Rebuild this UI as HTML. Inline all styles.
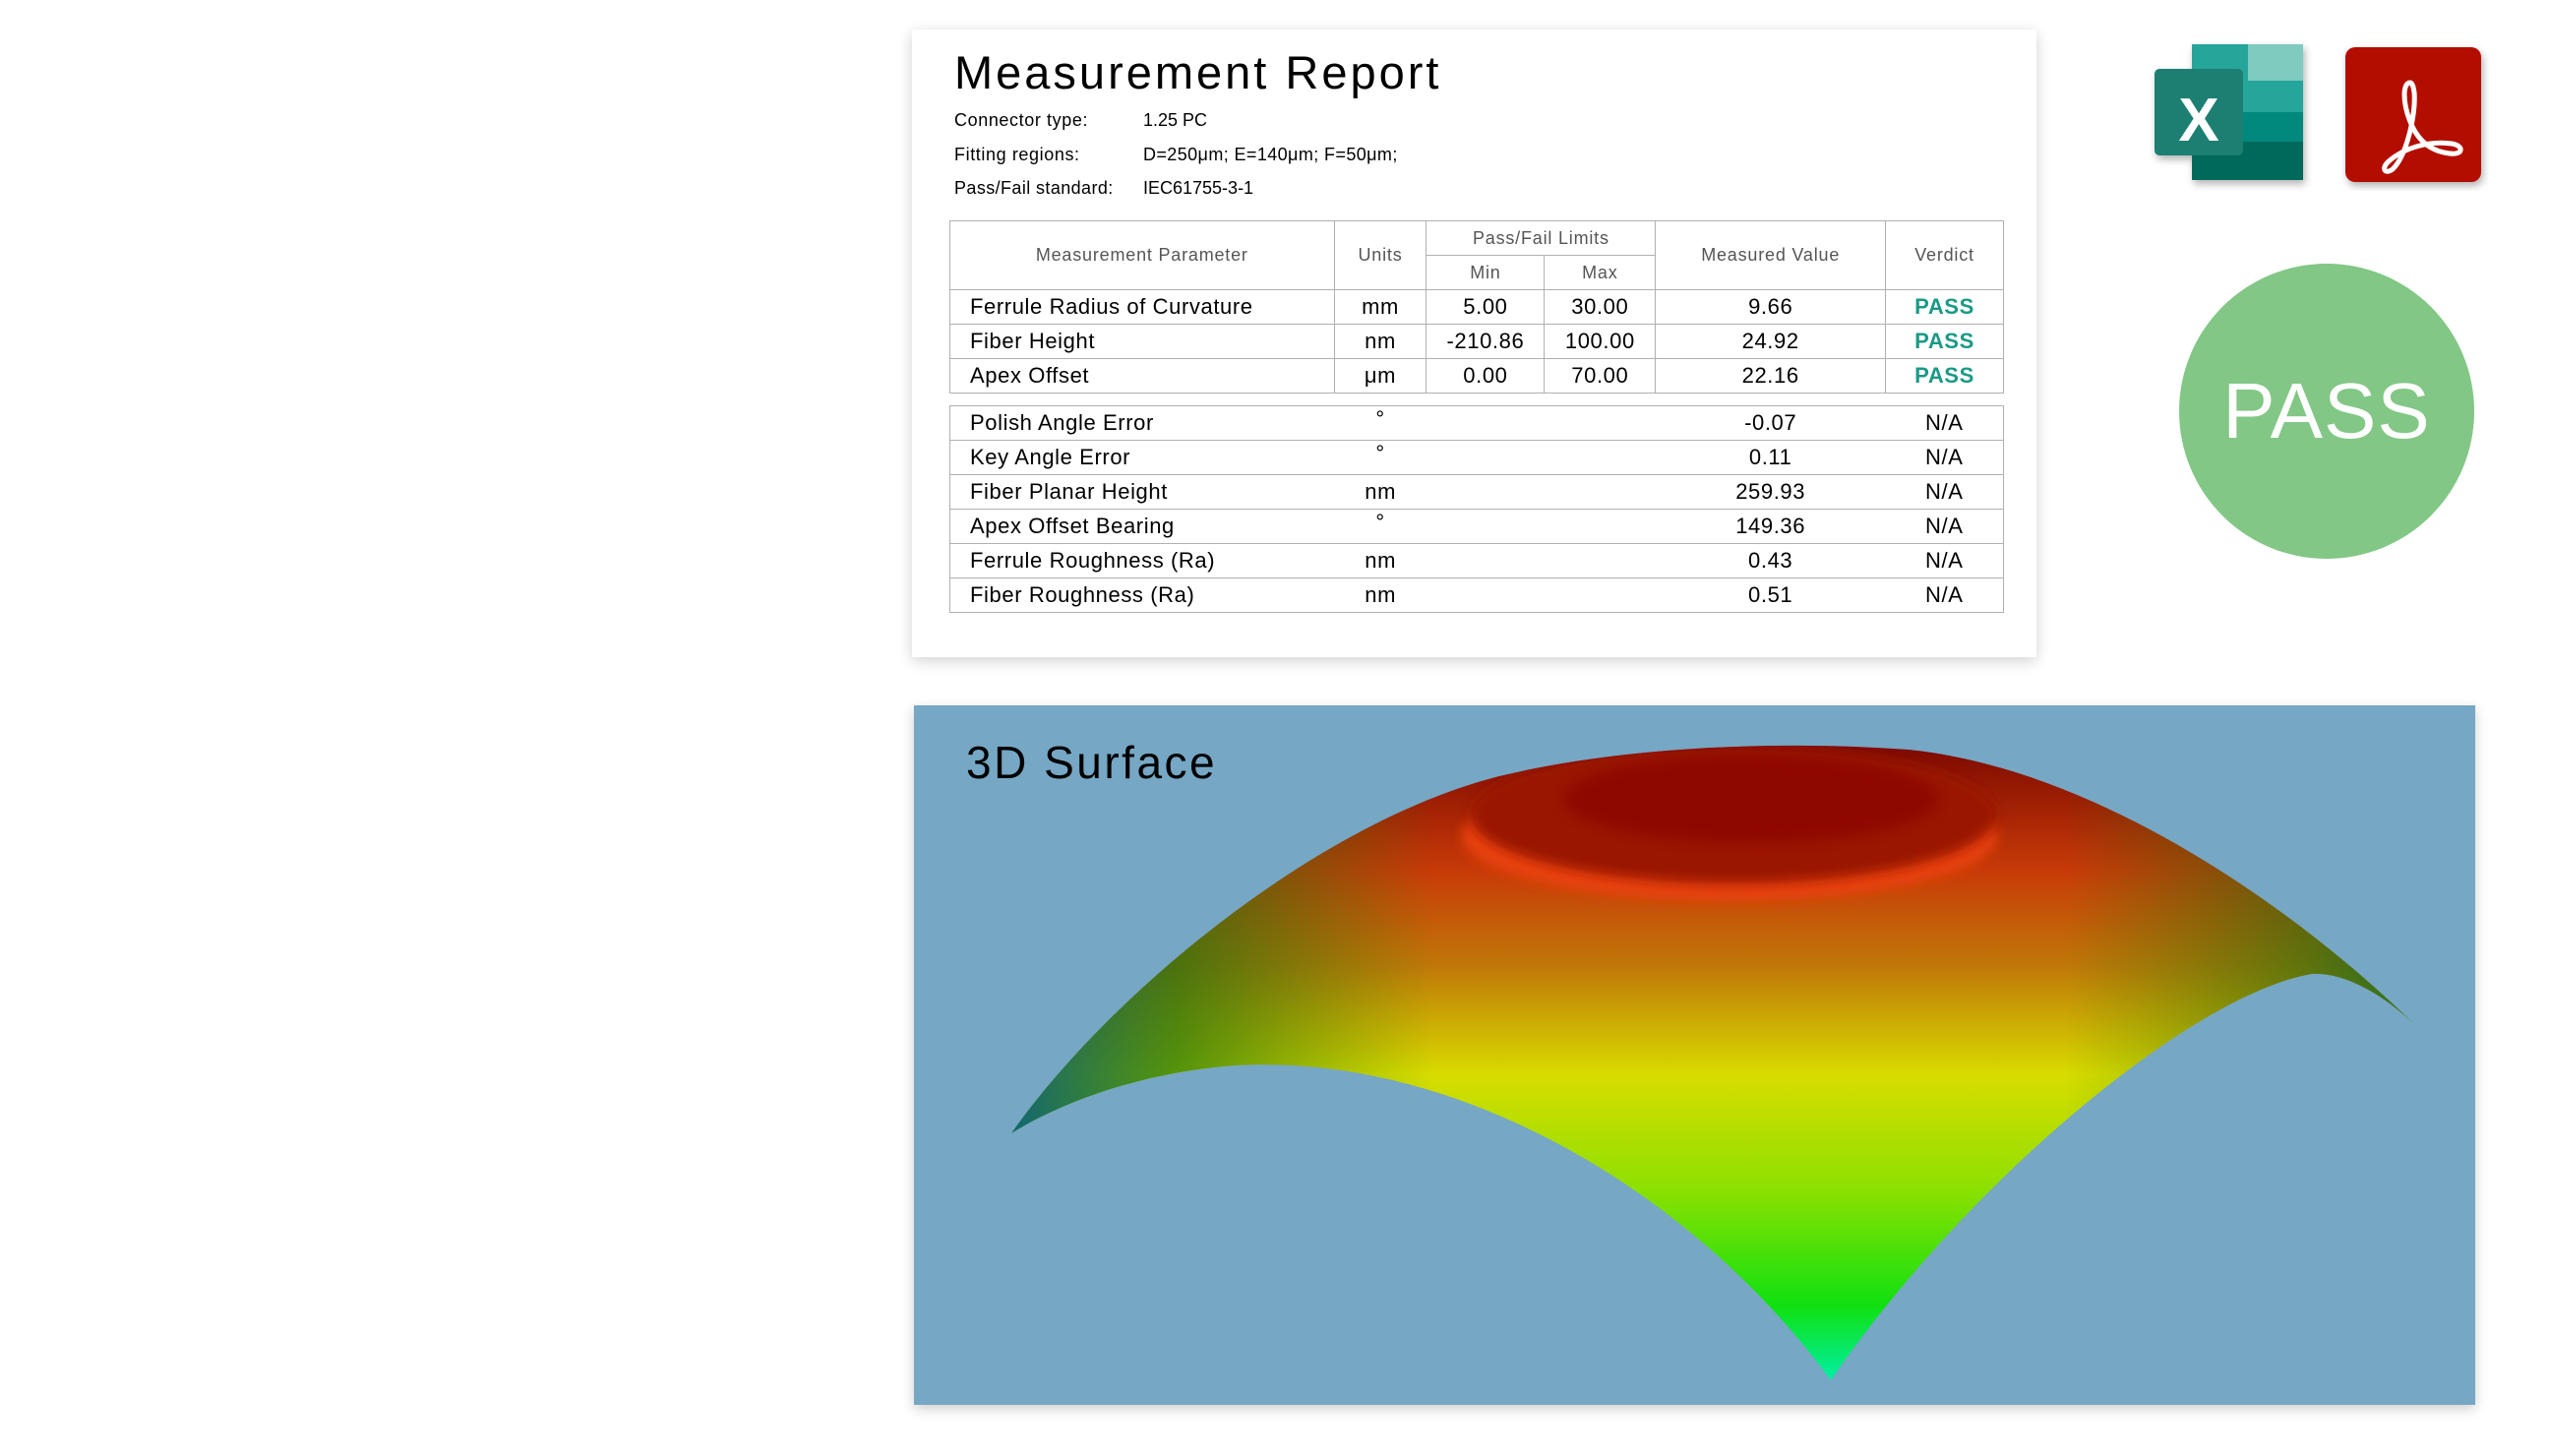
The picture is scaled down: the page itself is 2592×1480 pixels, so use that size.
<!DOCTYPE html>
<html><head><meta charset="utf-8"><style>
body{margin:0;width:2592px;height:1480px;background:#fff;position:relative;overflow:hidden;font-family:"Liberation Sans",sans-serif;}
.card{position:absolute;left:927px;top:30px;width:1143px;height:638px;background:#fff;box-shadow:0 4px 14px rgba(0,0,0,0.18);}
.t{position:absolute;white-space:nowrap;color:#000;}
.tbl{position:absolute;border-collapse:collapse;font-size:22px;letter-spacing:0.6px;}
.tbl td{border:1.5px solid #b0b0b0;padding:0;height:34px;}
.hd td{color:#555;font-size:18px;text-align:center;letter-spacing:0.8px}
.c{text-align:center}
.pass{color:#1a9a86;font-weight:bold;text-align:center}
</style></head><body>
<div class="card"></div>
<div class="t" style="left:970px;top:46px;font-size:47px;letter-spacing:3px;">Measurement Report</div>
<div class="t" style="left:970px;top:112px;font-size:18px;letter-spacing:0.6px">Connector type:</div>
<div class="t" style="left:1162px;top:112px;font-size:18px;">1.25 PC</div>
<div class="t" style="left:970px;top:147px;font-size:18px;letter-spacing:0.6px">Fitting regions:</div>
<div class="t" style="left:1162px;top:147px;font-size:18px;letter-spacing:0.4px">D=250μm; E=140μm; F=50μm;</div>
<div class="t" style="left:970px;top:181px;font-size:18px;letter-spacing:0.4px">Pass/Fail standard:</div>
<div class="t" style="left:1162px;top:181px;font-size:18px;">IEC61755-3-1</div>

<table class="tbl" style="left:965px;top:224px;width:1072px;">
<colgroup><col style="width:391px"><col style="width:94px"><col style="width:120px"><col style="width:113px"><col style="width:234px"><col style="width:120px"></colgroup>
<tr class="hd"><td rowspan="2" style="height:68px">Measurement Parameter</td><td rowspan="2">Units</td><td colspan="2" style="height:34px">Pass/Fail Limits</td><td rowspan="2">Measured Value</td><td rowspan="2">Verdict</td></tr>
<tr class="hd"><td>Min</td><td>Max</td></tr>
<tr><td style="padding-left:20px">Ferrule Radius of Curvature</td><td class="c">mm</td><td class="c">5.00</td><td class="c">30.00</td><td class="c">9.66</td><td class="pass">PASS</td></tr>
<tr><td style="padding-left:20px">Fiber Height</td><td class="c">nm</td><td class="c">-210.86</td><td class="c">100.00</td><td class="c">24.92</td><td class="pass">PASS</td></tr>
<tr><td style="padding-left:20px">Apex Offset</td><td class="c">μm</td><td class="c">0.00</td><td class="c">70.00</td><td class="c">22.16</td><td class="pass">PASS</td></tr>
</table>
<style>.t2 td{border-left:none;border-right:none}.t2 td:first-child{border-left:1.5px solid #b0b0b0}.t2 td:last-child{border-right:1.5px solid #b0b0b0}</style>
<table class="tbl t2" style="left:965px;top:412px;width:1072px;">
<colgroup><col style="width:391px"><col style="width:94px"><col style="width:120px"><col style="width:113px"><col style="width:234px"><col style="width:120px"></colgroup>
<tr><td style="padding-left:20px">Polish Angle Error</td><td class="c" style="vertical-align:top">°</td><td></td><td></td><td class="c">-0.07</td><td class="c">N/A</td></tr>
<tr><td style="padding-left:20px">Key Angle Error</td><td class="c" style="vertical-align:top">°</td><td></td><td></td><td class="c">0.11</td><td class="c">N/A</td></tr>
<tr><td style="padding-left:20px">Fiber Planar Height</td><td class="c">nm</td><td></td><td></td><td class="c">259.93</td><td class="c">N/A</td></tr>
<tr><td style="padding-left:20px">Apex Offset Bearing</td><td class="c" style="vertical-align:top">°</td><td></td><td></td><td class="c">149.36</td><td class="c">N/A</td></tr>
<tr><td style="padding-left:20px">Ferrule Roughness (Ra)</td><td class="c">nm</td><td></td><td></td><td class="c">0.43</td><td class="c">N/A</td></tr>
<tr><td style="padding-left:20px">Fiber Roughness (Ra)</td><td class="c">nm</td><td></td><td></td><td class="c">0.51</td><td class="c">N/A</td></tr>
</table>

<!-- Excel icon -->
<svg style="position:absolute;left:2185px;top:40px" width="170" height="160">
<defs><filter id="sh" x="-20%" y="-20%" width="150%" height="150%"><feDropShadow dx="2" dy="4" stdDeviation="4" flood-opacity="0.3"/></filter></defs>
<g filter="url(#sh)">
<rect x="43" y="5" width="113" height="138" rx="6" fill="#107c41"/>
<rect x="43" y="5" width="113" height="45" rx="6" fill="#21a366"/>
<rect x="43" y="30" width="113" height="20" fill="#21a366"/>
<rect x="100" y="5" width="56" height="37" fill="#7fcbc0"/>
<rect x="100" y="42" width="56" height="32" fill="#26a69a"/>
<rect x="43" y="5" width="57" height="70" fill="#26a69a"/>
<rect x="43" y="74" width="113" height="30" fill="#00897b"/>
<rect x="43" y="104" width="113" height="39" fill="#00695c"/>
<rect x="5" y="30" width="90" height="88" rx="5" fill="#1b7f72"/>
</g>
<text x="50" y="103" font-family="Liberation Sans" font-weight="bold" font-size="62" fill="#fff" text-anchor="middle">X</text>
</svg>
<!-- PDF icon -->
<svg style="position:absolute;left:2380px;top:44px" width="150" height="150">
<rect x="4" y="4" width="138" height="137" rx="10" fill="#b30b00" filter="url(#sh)"/>
<path d="M70,40 C62,40 62,60 70,80 C78,100 92,110 110,112 C124,114 125,104 112,102 C92,99 65,105 48,120 C40,127 44,134 52,128 C66,115 76,72 74,50 C73,42 71,40 70,40 Z" fill="none" stroke="#fff" stroke-width="5"/>
</svg>

<div style="position:absolute;left:2215px;top:268px;width:300px;height:300px;border-radius:50%;background:#82c785;"></div>
<div class="t" style="left:2215px;top:372px;width:300px;text-align:center;color:#fff;font-size:80px;letter-spacing:1px">PASS</div>

<!-- 3D panel -->
<div style="position:absolute;left:929px;top:717px;width:1587px;height:711px;background:#76a7c4;box-shadow:0 4px 12px rgba(0,0,0,0.2);"></div>
<svg style="position:absolute;left:0;top:0" width="2592" height="1480">
<defs>
<linearGradient id="v" x1="0" y1="755" x2="0" y2="1405" gradientUnits="userSpaceOnUse">
<stop offset="0" stop-color="#7a0800"/>
<stop offset="0.2" stop-color="#c83a08"/>
<stop offset="0.35" stop-color="#c07808"/>
<stop offset="0.52" stop-color="#d8dc00"/>
<stop offset="0.7" stop-color="#8ce000"/>
<stop offset="0.88" stop-color="#10e010"/>
<stop offset="1" stop-color="#00f0a8"/>
</linearGradient>
<linearGradient id="h" x1="1028" y1="0" x2="2456" y2="0" gradientUnits="userSpaceOnUse">
<stop offset="0" stop-color="#005a80" stop-opacity="0.9"/>
<stop offset="0.12" stop-color="#107010" stop-opacity="0.65"/>
<stop offset="0.3" stop-color="#208000" stop-opacity="0"/>
<stop offset="0.75" stop-color="#208000" stop-opacity="0"/>
<stop offset="0.92" stop-color="#107010" stop-opacity="0.55"/>
<stop offset="1" stop-color="#006030" stop-opacity="0.8"/>
</linearGradient>
<filter id="bl"><feGaussianBlur stdDeviation="6"/></filter>
<path id="shape" d="M1028,1152 C1120,1020 1330,840 1520,790 C1640,760 1800,752 1940,762 C2120,780 2320,910 2456,1043 C2420,1008 2380,988 2350,990 C2230,1010 2000,1200 1861,1403 C1720,1210 1480,1070 1256,1083 C1160,1090 1080,1120 1028,1152 Z"/>
<clipPath id="cp"><use href="#shape"/></clipPath>
</defs>
<use href="#shape" fill="url(#v)"/>
<use href="#shape" fill="url(#h)"/>
<g clip-path="url(#cp)">
<ellipse cx="1758" cy="850" rx="272" ry="66" fill="#e8420c" filter="url(#bl)"/>
<ellipse cx="1762" cy="828" rx="268" ry="70" fill="#9a1200" filter="url(#bl)"/>
<ellipse cx="1780" cy="812" rx="190" ry="45" fill="#880000" opacity="0.6" filter="url(#bl)"/>
</g>
</svg>
<div class="t" style="left:982px;top:748px;font-size:46px;letter-spacing:2.5px;">3D Surface</div>
</body></html>
